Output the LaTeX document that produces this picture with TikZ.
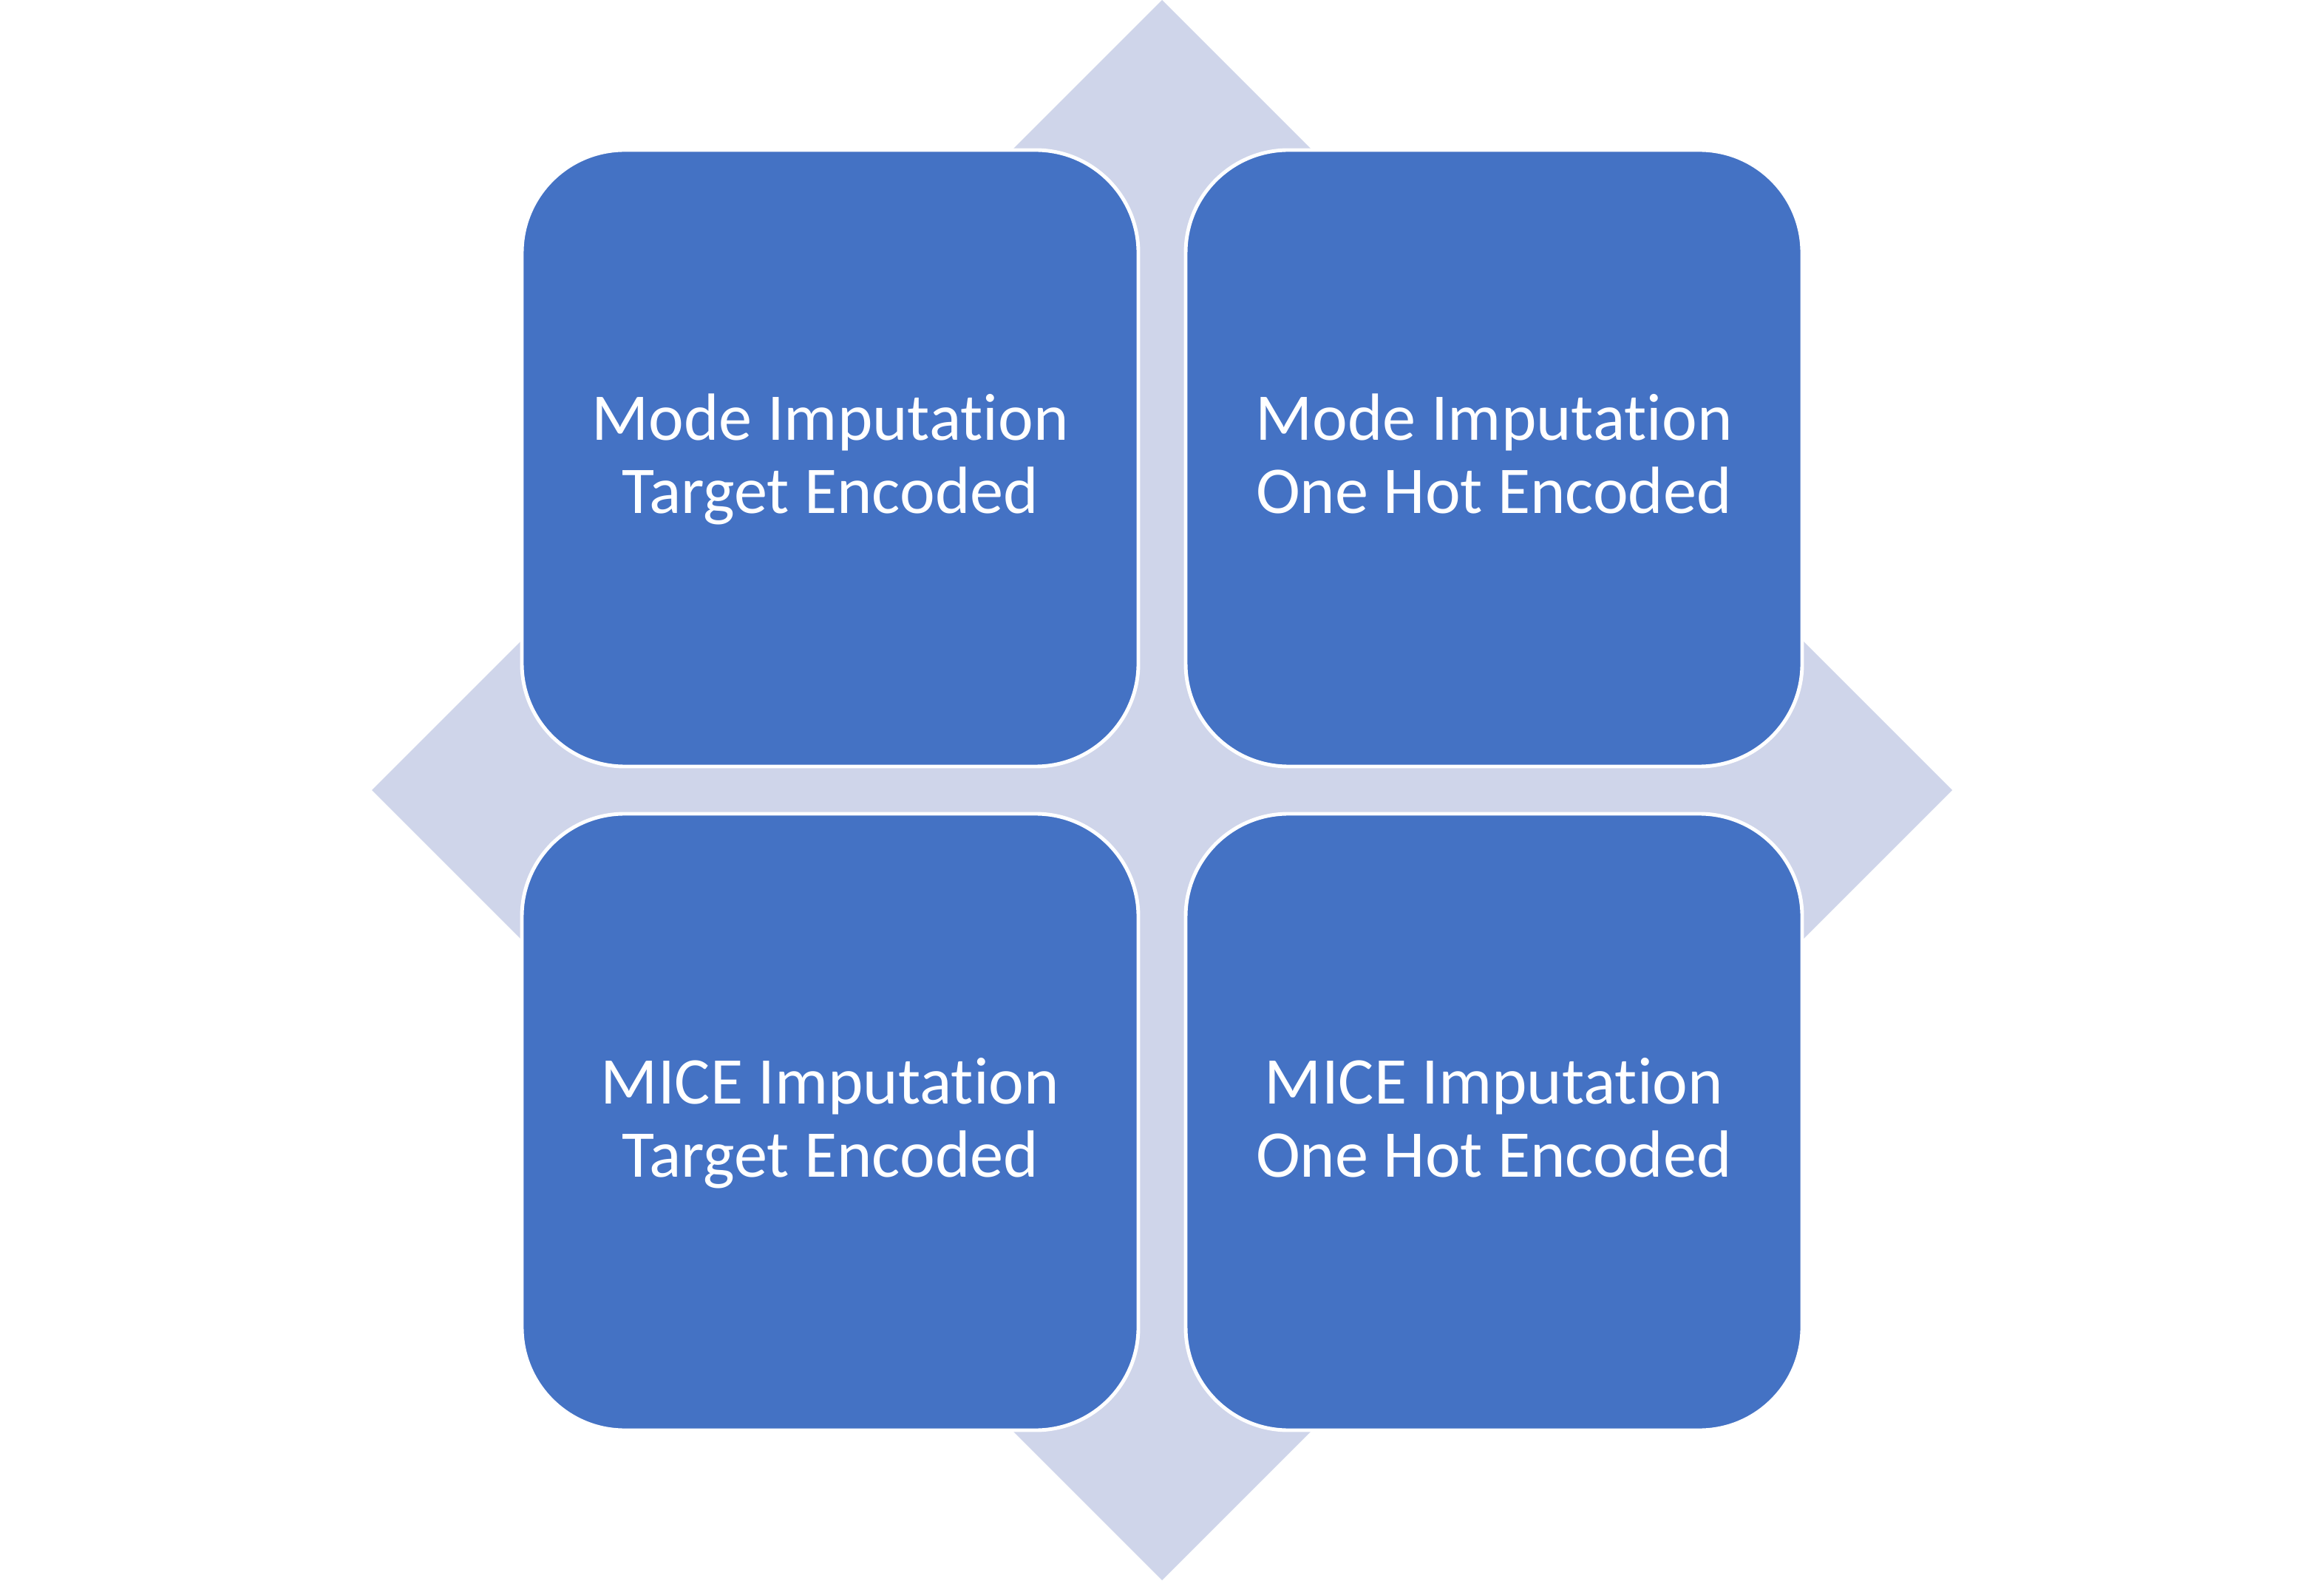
\documentclass[tikz,border=0pt]{standalone}
\usepackage{fontspec}
\setmainfont{Carlito}[Ligatures=NoCommon]
\usetikzlibrary{positioning}
\definecolor{boxblue}{HTML}{4472C4}
\definecolor{backlav}{HTML}{CFD5EA}

\begin{document}
\begin{tikzpicture}[
    quad/.style={draw=white, line width=1.4pt, fill=boxblue, rounded corners=1.39cm,
      minimum width=8.34cm, minimum height=8.34cm, inner sep=0pt, outer sep=0pt,
      text depth=3.5pt, align=center, text=white, font=\fontsize{25.7}{28}\selectfont}]
  \useasboundingbox (0,0) rectangle (31.44,21.38);
  \fill[white] (0,0) rectangle (31.44,21.38);
  \coordinate (c) at (15.72,10.69);
  % diamond behind the boxes
  \fill[backlav] (c) ++(0,10.69) -- ++(10.69,-10.69) -- ++(-10.69,-10.69)
    -- ++(-10.69,10.69) -- cycle;
  % four quadrants
  \node[quad, above left=0.32cm and 0.32cm of c] (modete) {Mode Imputation\\Target Encoded};
  \node[quad, above right=0.32cm and 0.32cm of c] (modeoh) {Mode Imputation\\One Hot Encoded};
  \node[quad, below left=0.32cm and 0.32cm of c] (micete) {MICE Imputation\\Target Encoded};
  \node[quad, below right=0.32cm and 0.32cm of c] (miceoh) {MICE Imputation\\One Hot Encoded};
\end{tikzpicture}
\end{document}
